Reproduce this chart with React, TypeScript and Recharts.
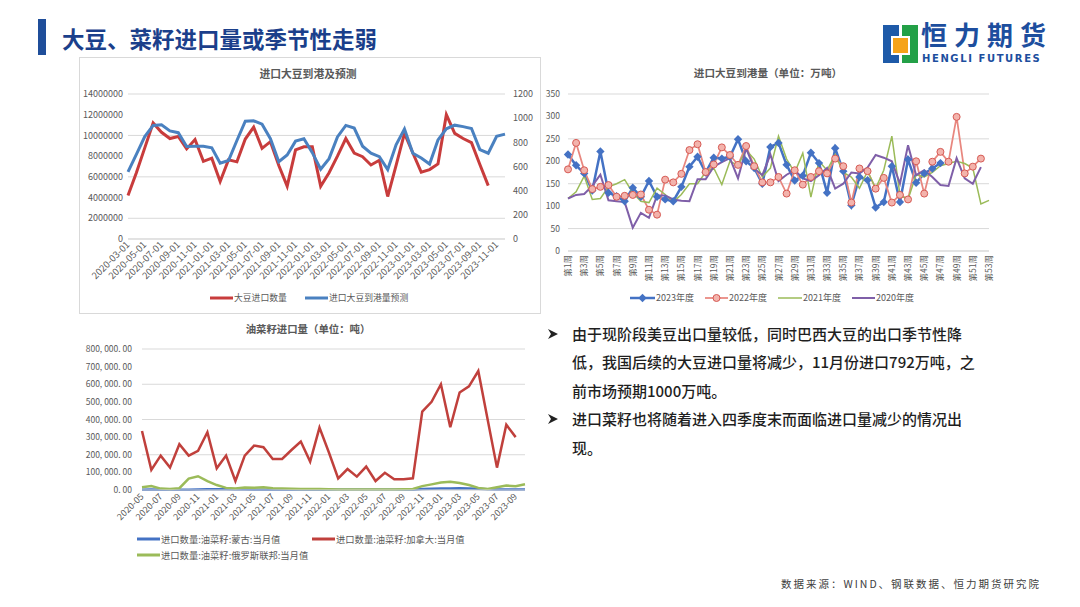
import React from 'react';
import { LineChart, Line, XAxis, YAxis, CartesianGrid } from 'recharts';

const FONT = '"Noto Sans CJK SC", "Noto Sans", "DejaVu Sans", sans-serif';
const AXIS_TEXT = '#595959';
const GRID = '#D9D9D9';

// ---------- Chart 1: 进口大豆到港及预测 ----------
const soyMonths = [
  '2020-03-01', '2020-04-01', '2020-05-01', '2020-06-01', '2020-07-01', '2020-08-01', '2020-09-01', '2020-10-01', '2020-11-01', '2020-12-01',
  '2021-01-01', '2021-02-01', '2021-03-01', '2021-04-01', '2021-05-01', '2021-06-01', '2021-07-01', '2021-08-01', '2021-09-01', '2021-10-01', '2021-11-01', '2021-12-01',
  '2022-01-01', '2022-02-01', '2022-03-01', '2022-04-01', '2022-05-01', '2022-06-01', '2022-07-01', '2022-08-01', '2022-09-01', '2022-10-01', '2022-11-01', '2022-12-01',
  '2023-01-01', '2023-02-01', '2023-03-01', '2023-04-01', '2023-05-01', '2023-06-01', '2023-07-01', '2023-08-01', '2023-09-01', '2023-10-01', '2023-11-01', '2023-12-01',
];
const soyImportTons = [
  4200000, 6400000, 8800000, 11200000, 10300000, 9700000, 9900000, 8700000, 9600000, 7500000,
  7800000, 5550000, 7650000, 7450000, 9650000, 10800000, 8750000, 9400000, 7100000, 5100000, 8600000, 8900000,
  8900000, 5100000, 6400000, 8000000, 9700000, 8300000, 7950000, 7150000, 7600000, 4100000, 7100000, 10200000,
  8300000, 6450000, 6700000, 7250000, 12000000, 10200000, 9700000, 9300000, 7200000, 5150000, null, null,
];
const soyArrivalForecast = [
  555, 700, 848, 940, 946, 895, 880, 765, 768, 768,
  755, 627, 650, 815, 975, 978, 950, 830, 640, 695, 810, 830,
  715, 578, 665, 845, 940, 918, 768, 710, 682, 575, 780, 910,
  710, 670, 620, 820, 912, 942, 930, 915, 740, 710, 850, 868,
];
const soyLeftTicks = [0, 2000000, 4000000, 6000000, 8000000, 10000000, 12000000, 14000000];
const soyRightTicks = [0, 200, 400, 600, 800, 1000, 1200];

// ---------- Chart 2: 进口大豆到港量（单位：万吨） ----------
const weekLabels = [
  '第1周', '第2周', '第3周', '第4周', '第5周', '第6周', '第7周', '第8周', '第9周', '第10周',
  '第11周', '第12周', '第13周', '第14周', '第15周', '第16周', '第17周', '第18周', '第19周', '第20周',
  '第21周', '第22周', '第23周', '第24周', '第25周', '第26周', '第27周', '第28周', '第29周', '第30周',
  '第31周', '第32周', '第33周', '第34周', '第35周', '第36周', '第37周', '第38周', '第39周', '第40周',
  '第41周', '第42周', '第43周', '第44周', '第45周', '第46周', '第47周', '第48周', '第49周', '第50周',
  '第51周', '第52周', '第53周',
];
const arrival2023 = [
  215, 191, 173, 135, 222, 130, 122, 111, 141, 121,
  156, 121, 115, 111, 143, 188, 210, 175, 208, 206,
  210, 249, 200, 185, 150, 232, 241, 192, 157, 168,
  219, 196, 130, 229, 178, 102, 165, 158, 97, 109,
  189, 109, 204, 152, 173, 184, 196, null, null, null,
  null, null, null,
];
const arrival2022 = [
  182, 241, 180, 138, 143, 147, 121, 123, 125, 126,
  92, 81, 159, 153, 172, 225, 238, 176, 193, 231,
  214, 192, 234, 189, 153, 153, 165, 128, 180, 148,
  165, 178, 173, 206, 189, 108, 184, 178, 139, 163,
  108, 125, 115, 200, 128, 199, 221, 199, 299, 173,
  188, 206, null,
];
const arrival2021 = [
  117, 132, 167, 115, 117, 143, 150, 159, 130, 111,
  108, 140, 126, 109, 126, 150, 150, 176, 185, 148,
  200, 191, 225, 205, 165, 185, 256, 205, 175, 218,
  120, 200, 180, 215, 175, 165, 140, 178, 140, 180,
  256, 125, 115, 170, 165, 175, 190, 195, 200, 195,
  185, 105, 113,
];
const arrival2020 = [
  117, 125, 127, 145, 170, 113, 111, 109, 52, 85,
  74, 124, 124, 115, 112, 111, 160, 160, 188, 198,
  207, 162, 229, 184, 169, 215, 156, 170, 180, 162,
  156, 169, 185, 139, 150, 175, 173, 186, 214, 208,
  200, 150, 236, 169, 180, 165, 147, 145, 207, 162,
  150, 187, null,
];
const arrivalTicks = [0, 50, 100, 150, 200, 250, 300, 350];

// ---------- Chart 3: 油菜籽进口量（单位：吨） ----------
const rapeMonths = [
  '2020-05', '2020-06', '2020-07', '2020-08', '2020-09', '2020-10', '2020-11', '2020-12',
  '2021-01', '2021-02', '2021-03', '2021-04', '2021-05', '2021-06', '2021-07', '2021-08', '2021-09', '2021-10', '2021-11', '2021-12',
  '2022-01', '2022-02', '2022-03', '2022-04', '2022-05', '2022-06', '2022-07', '2022-08', '2022-09', '2022-10', '2022-11', '2022-12',
  '2023-01', '2023-02', '2023-03', '2023-04', '2023-05', '2023-06', '2023-07', '2023-08', '2023-09', '2023-10',
];
const rapeMongolia = [
  2000, 3000, 2000, 1000, 1000, 2000, 3000, 4000, 4000, 4000,
  3000, 3000, 2000, 2000, 2000, 2000, 2000, 2000, 1000, 1000,
  1000, 1000, 1000, 1000, 1000, 1000, 1000, 1000, 1000, 2000,
  5000, 7000, 8000, 9000, 10000, 9000, 7000, 4000, 3000, 3000,
  3000, 3000,
];
const rapeCanada = [
  335000, 114000, 195000, 127000, 260000, 195000, 222000, 328000, 123000, 195000,
  51000, 195000, 252000, 243000, 176000, 176000, 227000, 275000, 161000, 354000,
  214000, 66000, 119000, 76000, 133000, 51000, 98000, 61000, 61000, 66000,
  445000, 500000, 600000, 356000, 553000, 588000, 675000, 400000, 127000, 370000,
  300000, null,
];
const rapeRussia = [
  15000, 22000, 8000, 5000, 10000, 65000, 78000, 50000, 28000, 12000,
  8000, 14000, 13000, 15000, 10000, 9000, 7000, 6000, 5000, 5000,
  4000, 3000, 3000, 3000, 3000, 3000, 3000, 3000, 4000, 6000,
  22000, 32000, 42000, 47000, 40000, 28000, 12000, 6000, 15000, 25000,
  22000, 33000,
];
const rapeTicks = [0, 100000, 200000, 300000, 400000, 500000, 600000, 700000, 800000];

const fmtRape = (v: number) => (v === 0 ? '0. 00' : `${v / 1000}, 000. 00`);

// ---------- helpers ----------
const RotTick = (props: any) => {
  const { x, y, payload, fs } = props;
  return (
    <g transform={`translate(${x},${y})`}>
      <text x={0} y={0} dy={fs * 0.35} textAnchor="end" transform="rotate(-45)" fontSize={fs} fill={AXIS_TEXT} fontFamily={FONT}>
        {payload.value}
      </text>
    </g>
  );
};

const VertTick = (props: any) => {
  const { x, y, payload } = props;
  return (
    <g transform={`translate(${x},${y})`}>
      <text x={0} y={0} dy={3} textAnchor="end" transform="rotate(-90)" fontSize={8.5} fill={AXIS_TEXT} fontFamily={FONT}>
        {payload.value}
      </text>
    </g>
  );
};

const DiamondDot = (props: any) => {
  const { cx, cy, value, key } = props;
  if (value == null || cx == null || cy == null) return <g key={key} />;
  return <path key={key} d={`M${cx},${cy - 4.2}L${cx + 4.2},${cy}L${cx},${cy + 4.2}L${cx - 4.2},${cy}Z`} fill="#4472C4" />;
};

function LegendItem(p: { left: number; top: number; color: string; label: string; width?: number; sw?: number; marker?: string; fs?: number }) {
  const w = p.width ?? 23;
  return (
    <div style={{ position: 'absolute', left: p.left, top: p.top - 8, height: 16, display: 'flex', alignItems: 'center', whiteSpace: 'nowrap' }}>
      <svg width={w} height={16} style={{ display: 'block' }}>
        <line x1={0} y1={8} x2={w} y2={8} stroke={p.color} strokeWidth={p.sw ?? 3} />
        {p.marker === 'diamond' && <path d={`M${w / 2},3.8L${w / 2 + 4.2},8L${w / 2},12.2L${w / 2 - 4.2},8Z`} fill={p.color} />}
        {p.marker === 'circle' && <circle cx={w / 2} cy={8} r={3.5} fill="#F3B3AC" stroke="#D65A54" strokeWidth={1} />}
      </svg>
      <span style={{ fontSize: p.fs ?? 9, color: AXIS_TEXT, marginLeft: 1, lineHeight: '16px' }}>{p.label}</span>
    </div>
  );
}

const Bullet = ({ top }: { top: number }) => (
  <svg style={{ position: 'absolute', left: 548, top: top - 5 }} width={10} height={10}>
    <polygon points="0,0 10,5 0,10 3,5" fill="#222" />
  </svg>
);

export default function App() {
  const soyData = soyMonths.map((m, i) => ({ m, imp: soyImportTons[i], fc: soyArrivalForecast[i] }));
  const weekData = weekLabels.map((w, i) => ({ w, y2023: arrival2023[i], y2022: arrival2022[i], y2021: arrival2021[i], y2020: arrival2020[i] }));
  const rapeData = rapeMonths.map((m, i) => ({ m, mn: rapeMongolia[i], ca: rapeCanada[i], ru: rapeRussia[i] }));

  const textLines = [
    '由于现阶段美豆出口量较低，同时巴西大豆的出口季节性降',
    '低，我国后续的大豆进口量将减少，11月份进口792万吨，之',
    '前市场预期1000万吨。',
    '进口菜籽也将随着进入四季度末而面临进口量减少的情况出',
    '现。',
  ];
  const lineTops = [333.5, 362, 390.5, 419, 447.5];

  return (
    <div style={{ position: 'absolute', left: 0, top: 0, width: 1080, height: 607, background: '#fff', overflow: 'hidden', fontFamily: FONT }}>
      {/* header */}
      <div style={{ position: 'absolute', left: 38, top: 19, width: 8, height: 36, background: '#1F4E9A' }} />
      <div style={{ position: 'absolute', left: 62, top: 22, fontSize: 22.5, fontWeight: 700, color: '#1B3F8B', lineHeight: '32px', whiteSpace: 'nowrap' }}>
        大豆、菜籽进口量或季节性走弱
      </div>

      {/* logo */}
      <svg style={{ position: 'absolute', left: 883, top: 24 }} width={36} height={40}>
        <rect x={0} y={1} width={16} height={38} fill="#1E5AA8" />
        <rect x={19} y={1} width={16} height={38} fill="#23A047" />
        <rect x={8} y={12} width={19} height={19} fill="#fff" />
        <rect x={10} y={14} width={15} height={15} fill="#F5A31A" />
      </svg>
      <div style={{ position: 'absolute', left: 921, top: 20.5, fontSize: 26, fontWeight: 700, color: '#1D4E9E', letterSpacing: 7, lineHeight: '26px', whiteSpace: 'nowrap' }}>
        恒力期货
      </div>
      <div style={{ position: 'absolute', left: 922, top: 54, fontSize: 10, fontWeight: 700, color: '#1D4E9E', letterSpacing: 1.6, lineHeight: '10px', whiteSpace: 'nowrap', fontFamily: '"DejaVu Sans", sans-serif' }}>
        HENGLI FUTURES
      </div>

      {/* chart 1 box */}
      <div style={{ position: 'absolute', left: 79, top: 57, width: 460, height: 255, border: '1px solid #D9D9D9' }} />
      <div style={{ position: 'absolute', left: 208, top: 64, width: 200, textAlign: 'center', fontSize: 10.8, fontWeight: 700, color: AXIS_TEXT, lineHeight: '18px' }}>
        进口大豆到港及预测
      </div>
      <div style={{ position: 'absolute', left: 60, top: 57 }}>
        <LineChart width={480} height={230} data={soyData} margin={{ top: 37, right: 0, bottom: 0, left: 0 }}>
          <CartesianGrid yAxisId="left" horizontal vertical={false} stroke={GRID} />
          <XAxis dataKey="m" interval={1} height={48} tickLine={false} tickSize={2} tickMargin={2} axisLine={{ stroke: GRID }} tick={<RotTick fs={9.5} />} />
          <YAxis yAxisId="left" width={68} domain={[0, 14000000]} ticks={soyLeftTicks} axisLine={false} tickLine={false} tickSize={3} tickMargin={2} tick={{ fontSize: 9, fill: AXIS_TEXT, fontFamily: FONT }} />
          <YAxis yAxisId="right" orientation="right" width={35} domain={[0, 1200]} ticks={soyRightTicks} axisLine={false} tickLine={false} tick={{ fontSize: 9, fill: AXIS_TEXT, fontFamily: FONT }} />
          <Line yAxisId="left" type="linear" dataKey="imp" stroke="#C83C3C" strokeWidth={3} dot={false} isAnimationActive={false} />
          <Line yAxisId="right" type="linear" dataKey="fc" stroke="#4A81C0" strokeWidth={3} dot={false} isAnimationActive={false} />
        </LineChart>
      </div>
      <LegendItem left={210} top={298} color="#C83C3C" label="大豆进口数量" fs={8.8} />
      <LegendItem left={305} top={298} color="#4A81C0" label="进口大豆到港量预测" fs={8.8} />

      {/* chart 2 */}
      <div style={{ position: 'absolute', left: 618, top: 64, width: 300, textAlign: 'center', fontSize: 10.6, fontWeight: 700, color: AXIS_TEXT, lineHeight: '18px' }}>
        进口大豆到港量（单位：万吨）
      </div>
      <div style={{ position: 'absolute', left: 540, top: 57 }}>
        <LineChart width={460} height={229} data={weekData} margin={{ top: 37, right: 11, bottom: 0, left: 0 }}>
          <CartesianGrid horizontal vertical={false} stroke={GRID} />
          <XAxis dataKey="w" interval={1} height={35} tickLine={false} tickSize={2} tickMargin={2} axisLine={{ stroke: GRID }} tick={<VertTick />} />
          <YAxis width={28} domain={[0, 350]} ticks={arrivalTicks} axisLine={false} tickLine={false} tick={{ fontSize: 8.5, fill: AXIS_TEXT, fontFamily: FONT }} />
          <Line type="linear" dataKey="y2023" stroke="#4472C4" strokeWidth={2.5} dot={DiamondDot} isAnimationActive={false} />
          <Line type="linear" dataKey="y2022" stroke="#E8877F" strokeWidth={1.75} dot={{ r: 3.5, fill: '#F3B3AC', stroke: '#D65A54', strokeWidth: 1 }} isAnimationActive={false} />
          <Line type="linear" dataKey="y2021" stroke="#9BBB59" strokeWidth={1.5} dot={false} isAnimationActive={false} />
          <Line type="linear" dataKey="y2020" stroke="#7F5FA8" strokeWidth={2} dot={false} isAnimationActive={false} />
        </LineChart>
      </div>
      <LegendItem left={630} top={298} color="#4472C4" label="2023年度" width={25} sw={2.5} marker="diamond" fs={9} />
      <LegendItem left={705} top={298} color="#E8877F" label="2022年度" width={23} sw={1.75} marker="circle" fs={9} />
      <LegendItem left={778} top={298} color="#9BBB59" label="2021年度" width={24} sw={1.5} fs={9} />
      <LegendItem left={852} top={298} color="#7F5FA8" label="2020年度" width={23} sw={2} fs={9} />

      {/* chart 3 */}
      <div style={{ position: 'absolute', left: 208, top: 320, width: 200, textAlign: 'center', fontSize: 10.4, fontWeight: 700, color: AXIS_TEXT, lineHeight: '18px' }}>
        油菜籽进口量（单位：吨）
      </div>
      <div style={{ position: 'absolute', left: 60, top: 315 }}>
        <LineChart width={480} height={220} data={rapeData} margin={{ top: 34, right: 15, bottom: 0, left: 0 }}>
          <CartesianGrid horizontal vertical={false} stroke={GRID} />
          <XAxis dataKey="m" interval={1} height={45} tickLine={false} tickSize={2} tickMargin={3} axisLine={{ stroke: GRID }} tick={<RotTick fs={9} />} />
          <YAxis width={82} domain={[0, 800000]} ticks={rapeTicks} tickFormatter={fmtRape} axisLine={false} tickLine={false} tickSize={6} tickMargin={4} tick={{ fontSize: 8.5, fill: AXIS_TEXT, fontFamily: FONT }} />
          <Line type="linear" dataKey="mn" stroke="#4472C4" strokeWidth={2.5} dot={false} isAnimationActive={false} />
          <Line type="linear" dataKey="ca" stroke="#C0403C" strokeWidth={2.5} dot={false} isAnimationActive={false} />
          <Line type="linear" dataKey="ru" stroke="#9BBB59" strokeWidth={2.5} dot={false} isAnimationActive={false} />
        </LineChart>
      </div>
      <LegendItem left={137} top={539} color="#4472C4" label="进口数量:油菜籽:蒙古:当月值" fs={9.3} />
      <LegendItem left={312} top={539} color="#C0403C" label="进口数量:油菜籽:加拿大:当月值" fs={9.3} />
      <LegendItem left={137} top={555} color="#9BBB59" label="进口数量:油菜籽:俄罗斯联邦:当月值" fs={9.3} />

      {/* bullets */}
      <Bullet top={lineTops[0]} />
      <Bullet top={lineTops[3]} />
      {textLines.map((t, i) => (
        <div key={i} style={{ position: 'absolute', left: 572, top: lineTops[i] - 11, fontSize: 15, fontWeight: 500, color: '#1F1F1F', lineHeight: '22px', whiteSpace: 'nowrap' }}>
          {t}
        </div>
      ))}

      {/* footer */}
      <div style={{ position: 'absolute', left: 781, top: 576, fontSize: 10.5, color: '#404040', letterSpacing: 2, lineHeight: '16px', whiteSpace: 'nowrap' }}>
        数据来源：WIND、钢联数据、恒力期货研究院
      </div>
    </div>
  );
}
